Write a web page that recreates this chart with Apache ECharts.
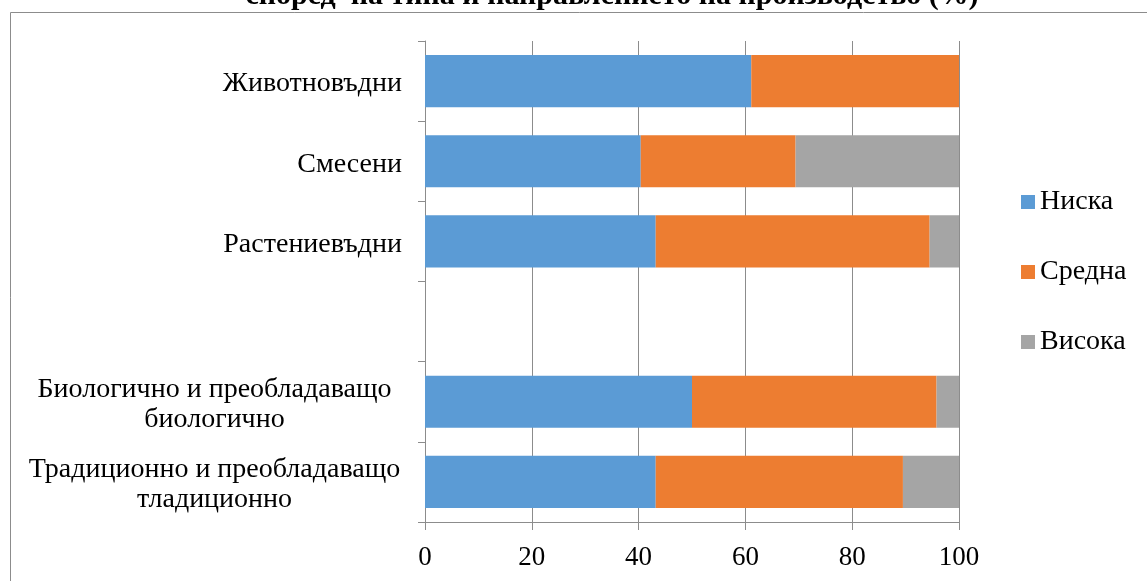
<!DOCTYPE html>
<html>
<head>
<meta charset="utf-8">
<script src="https://cdn.jsdelivr.net/npm/echarts@6/dist/echarts.min.js"></script>
<style>
html,body{margin:0;padding:0;background:#fff;}
#chart{width:1147px;height:581px;}
</style>
</head>
<body>
<div id="chart"></div>
<script>
const titleText = 'според  на типа и направлението на производство (%)';
const categories = [
  'Традиционно и преобладаващо\nтладиционно',
  'Биологично и преобладаващо\nбиологично',
  '',
  'Растениевъдни',
  'Смесени',
  'Животновъдни'
];
const seriesNames = ['Ниска', 'Средна', 'Висока'];
const lowValues  = [43.2, 50.0, null, 43.2, 40.4, 61.1];
const midValues  = [46.3, 45.8, null, 51.3, 29.0, 38.9];
const highValues = [10.5, 4.2, null, 5.5, 30.6, 0];
const xTicks = [0, 20, 40, 60, 80, 100];

const FONT = '"Liberation Serif", "Times New Roman", serif';
const colors = ['#5B9BD5', '#ED7D31', '#A5A5A5'];
const chart = echarts.init(document.getElementById('chart'));

const values = [lowValues, midValues, highValues];
const option = {
  animation: false,
  color: colors,
  graphic: [
    {type: 'rect', shape: {x: 10.5, y: 12.5, width: 1300, height: 800},
     style: {fill: 'none', stroke: '#8c8c8c', lineWidth: 1}, z: -1},
    {type: 'text', x: 612, y: -4,
     style: {text: titleText, font: 'bold 30px ' + FONT, fill: '#000', textAlign: 'center', textVerticalAlign: 'middle'}}
  ],
  legend: {
    orient: 'vertical',
    left: 1016,
    top: 183,
    itemWidth: 14,
    itemHeight: 14,
    itemGap: 42,
    icon: 'rect',
    textStyle: {fontFamily: FONT, fontSize: 28, color: '#000'},
    data: seriesNames
  },
  grid: {left: 425, right: 188, top: 41, bottom: 59, containLabel: false},
  xAxis: {
    type: 'value', min: xTicks[0], max: xTicks[xTicks.length - 1], interval: 20,
    axisLine: {show: true, lineStyle: {color: '#8c8c8c', width: 1}},
    axisTick: {show: true, length: 8, lineStyle: {color: '#8c8c8c'}},
    splitLine: {show: true, lineStyle: {color: '#8c8c8c', width: 1}},
    axisLabel: {fontFamily: FONT, fontSize: 27, color: '#000', margin: 22}
  },
  yAxis: {
    type: 'category', data: categories,
    axisLine: {show: true, lineStyle: {color: '#8c8c8c', width: 1}},
    axisTick: {show: true, length: 7, lineStyle: {color: '#8c8c8c'}},
    axisLabel: {
      margin: 23, color: '#000', fontFamily: FONT, fontSize: 28, padding: [6, 0, 0, 0],
      formatter: function (v) {
        if (v.indexOf('\n') < 0) return v;
        return v.split('\n').map(function (l) { return '{c|' + l + '}'; }).join('\n');
      },
      rich: {c: {fontFamily: FONT, fontSize: 28, color: '#000', width: 375, align: 'center', lineHeight: 30}}
    }
  },
  series: seriesNames.map(function (n, i) {
    return {
      name: n, type: 'bar', stack: 'total', barWidth: '65%',
      data: values[i],
      itemStyle: {color: colors[i]}
    };
  })
};
chart.setOption(option);
</script>
</body>
</html>
